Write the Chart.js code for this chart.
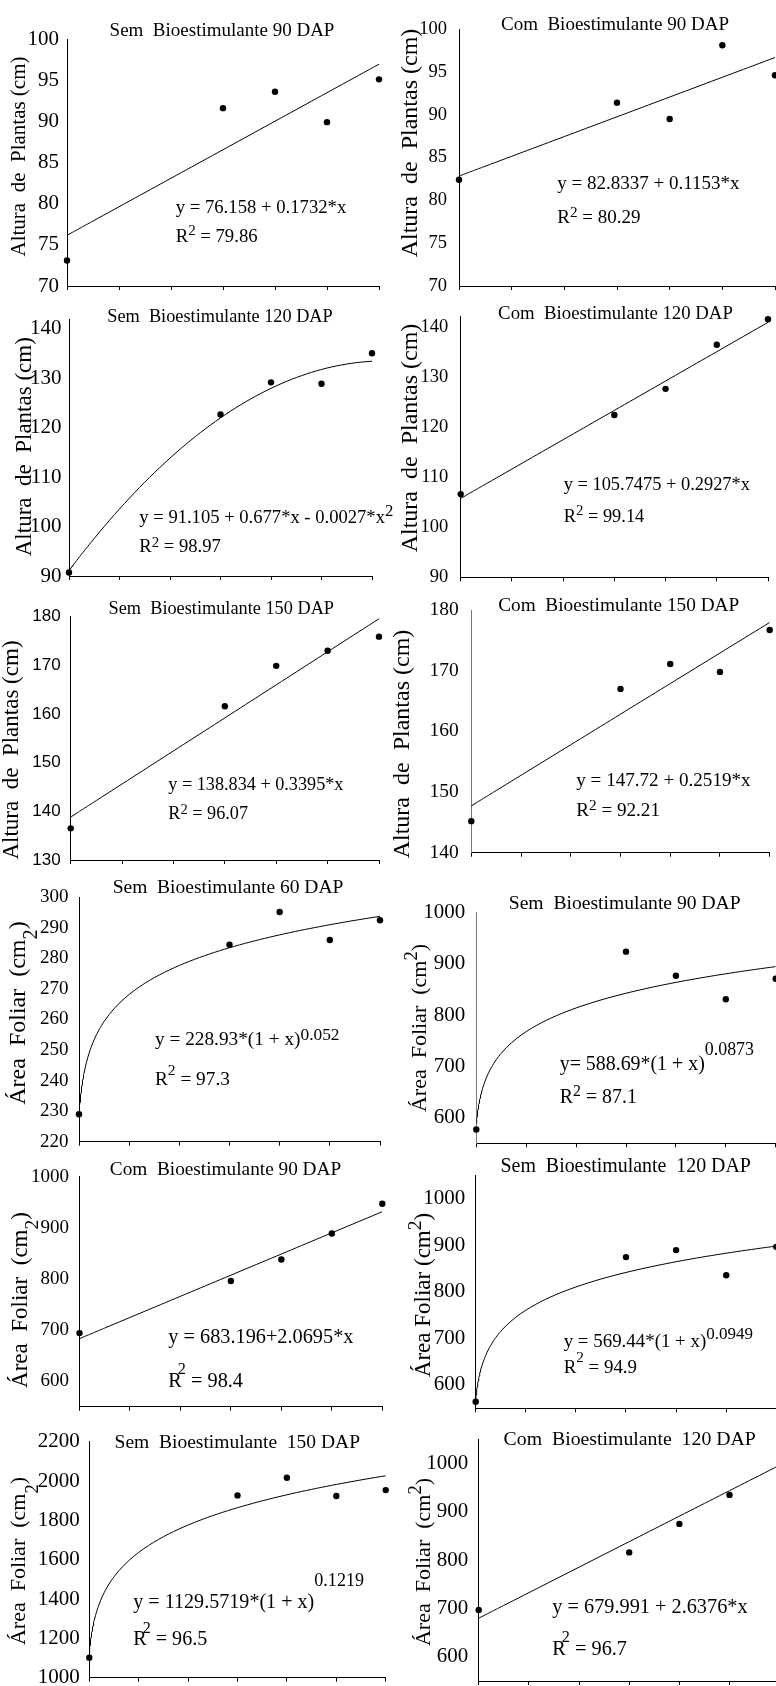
<!DOCTYPE html>
<html>
<head>
<meta charset="utf-8">
<script src="https://cdn.jsdelivr.net/npm/chart.js@4.4.0/dist/chart.umd.min.js"></script>
<style>
  html, body { margin: 0; padding: 0; background: #fff; width: 776px; height: 1686px; overflow: hidden; }
  #fig { position: relative; width: 776px; height: 1686px; overflow: hidden; }
  canvas { position: absolute; }
</style>
</head>
<body>
<div id="fig"></div>
<script>
// doses (x) and axis marks
const doses = [0, 60, 80, 100, 120];
const xTicks = [0, 20, 40, 60, 80, 100, 120];

// Altura de plantas (cm)
const alturaSem90 = [73.1, 91.6, 93.6, 89.9, 95.1];
const alturaCom90 = [82.4, 91.4, 89.5, 98.1, 94.6];
const alturaSem120 = [90.7, 122.7, 129.2, 128.9, 135.1];
const alturaCom120 = [106.6, 122.4, 127.6, 136.4, 141.5];
const alturaSem150 = [136.5, 161.6, 169.9, 173.0, 175.9];
const alturaCom150 = [145.2, 167.0, 171.1, 169.8, 176.7];

// Área foliar (cm2)
const areaSem60 = [229, 284.5, 295.2, 286, 292.5];
const areaSem90 = [577, 924, 877, 831, 871];
const areaCom90 = [694, 796, 838, 889, 947];
const areaSem120 = [564, 874, 889, 835, 896];
const areaSem150 = [1102, 1927, 2017, 1924, 1954];
const areaCom120 = [697, 816, 875, 935]; // dose 120 falls outside the frame

// y tick labels
const yTicksAlt90 = [70, 75, 80, 85, 90, 95, 100];
const yTicksAlt120 = [90, 100, 110, 120, 130, 140];
const yTicksAltSem150 = [130, 140, 150, 160, 170, 180];
const yTicksAltCom150 = [140, 150, 160, 170, 180];
const yTicksArea60 = [220, 230, 240, 250, 260, 270, 280, 290, 300];
const yTicksArea = [600, 700, 800, 900, 1000];
const yTicksArea150 = [1000, 1200, 1400, 1600, 1800, 2000, 2200];

// regression coefficients, as printed on each panel
const fitAltSem90 = [76.158, 0.1732];
const fitAltCom90 = [82.8337, 0.1153];
const fitAltSem120 = [91.105, 0.677, -0.0027];
const fitAltCom120 = [105.7475, 0.2927];
const fitAltSem150 = [138.834, 0.3395];
const fitAltCom150 = [147.72, 0.2519];
const fitAreaSem60 = [228.93, 0.052];
const fitAreaSem90 = [588.69, 0.0873];
const fitAreaCom90 = [683.196, 2.0695];
const fitAreaSem120 = [569.44, 0.0949];
const fitAreaSem150 = [1129.5719, 0.1219];
const fitAreaCom120 = [679.991, 2.6376];

const models = {
    lin: (c, x) => c[0] + c[1] * x,
    quad: (c, x) => c[0] + c[1] * x + c[2] * x * x,
    pow: (c, x) => c[0] * Math.pow(1 + x, c[1])
};

// texts ("^" marks a superscript)
const labelAltura = 'Altura  de  Plantas (cm)';
const labelArea = 'Área  Foliar  (cm^2)';

const panelData = [
    { title: 'Sem  Bioestimulante 90 DAP', ylabel: labelAltura, y: alturaSem90, yTicks: yTicksAlt90, fit: fitAltSem90, model: 'lin',
      eq: ['y = 76.158 + 0.1732*x', 'R^2 = 79.86'] },
    { title: 'Com  Bioestimulante 90 DAP', ylabel: labelAltura, y: alturaCom90, yTicks: yTicksAlt90, fit: fitAltCom90, model: 'lin',
      eq: ['y = 82.8337 + 0.1153*x', 'R^2 = 80.29'] },
    { title: 'Sem  Bioestimulante 120 DAP', ylabel: labelAltura, y: alturaSem120, yTicks: yTicksAlt120, fit: fitAltSem120, model: 'quad',
      eq: ['y = 91.105 + 0.677*x - 0.0027*x^2', 'R^2 = 98.97'] },
    { title: 'Com  Bioestimulante 120 DAP', ylabel: labelAltura, y: alturaCom120, yTicks: yTicksAlt120, fit: fitAltCom120, model: 'lin',
      eq: ['y = 105.7475 + 0.2927*x', 'R^2 = 99.14'] },
    { title: 'Sem  Bioestimulante 150 DAP', ylabel: labelAltura, y: alturaSem150, yTicks: yTicksAltSem150, fit: fitAltSem150, model: 'lin',
      eq: ['y = 138.834 + 0.3395*x', 'R^2 = 96.07'] },
    { title: 'Com  Bioestimulante 150 DAP', ylabel: labelAltura, y: alturaCom150, yTicks: yTicksAltCom150, fit: fitAltCom150, model: 'lin',
      eq: ['y = 147.72 + 0.2519*x', 'R^2 = 92.21'] },
    { title: 'Sem  Bioestimulante 60 DAP', ylabel: labelArea, y: areaSem60, yTicks: yTicksArea60, fit: fitAreaSem60, model: 'pow',
      eq: ['y = 228.93*(1 + x)^0.052', 'R^2 = 97.3'] },
    { title: 'Sem  Bioestimulante 90 DAP', ylabel: labelArea, y: areaSem90, yTicks: yTicksArea, fit: fitAreaSem90, model: 'pow',
      eq: ['y= 588.69*(1 + x)^0.0873', 'R^2 = 87.1'] },
    { title: 'Com  Bioestimulante 90 DAP', ylabel: labelArea, y: areaCom90, yTicks: yTicksArea, fit: fitAreaCom90, model: 'lin',
      eq: ['y = 683.196+2.0695*x', 'R^2 = 98.4'] },
    { title: 'Sem  Bioestimulante  120 DAP', ylabel: 'Área Foliar (cm^2)', y: areaSem120, yTicks: yTicksArea, fit: fitAreaSem120, model: 'pow',
      eq: ['y = 569.44*(1 + x)^0.0949', 'R^2 = 94.9'] },
    { title: 'Sem  Bioestimulante  150 DAP', ylabel: labelArea, y: areaSem150, yTicks: yTicksArea150, fit: fitAreaSem150, model: 'pow',
      eq: ['y = 1129.5719*(1 + x)^0.1219', 'R^2 = 96.5'] },
    { title: 'Com  Bioestimulante  120 DAP', ylabel: labelArea, y: areaCom120, yTicks: yTicksArea, fit: fitAreaCom120, model: 'lin',
      eq: ['y = 679.991 + 2.6376*x', 'R^2 = 96.7'] }
];

// page layout: box = plot area [left, top, right, bottom], title = [cx, baseline, size],
// label = [baseline x, center y, size, superscript shift], eq = [x, baseline1, baseline2, size],
// sup = [exponent raise, R2 raise], tick = [size, padding, family]
const panelLayout = [
    { col: 0, box: [67, 39, 379, 286], yRange: [70, 100], title: [222, 36, 19], label: [25, 156.5, 21, 0], eq: [175.7, 213.3, 241.7, 18.7], sup: [0, 7], tick: [21, 8] },
    { col: 1, box: [459, 29, 775, 286], yRange: [70, 100], title: [615, 30, 19], label: [417, 143, 24, 0], eq: [557.3, 189.3, 222.7, 19], sup: [0, 6], tick: [18.5, 12] },
    { col: 0, box: [69, 319.1, 372, 576], yRange: [90, 142], title: [220, 321.7, 18.3], label: [31, 446.7, 23, 0], eq: [139.3, 523.3, 551.7, 18.6], sup: [7, 5], tick: [21, 7.5] },
    { col: 1, box: [460.7, 316.7, 768, 577.3], yRange: [90, 142], title: [615.5, 319.3, 18.8], label: [417, 438, 24, 0], eq: [563.7, 490, 521.7, 18.4], sup: [0, 7], tick: [18.5, 12.5] },
    { col: 0, box: [70.7, 616.7, 379, 860], yRange: [130, 180], title: [221.3, 614.3, 18.3], label: [18, 750, 23, 0], eq: [168.3, 790, 819, 18.2], sup: [0, 5], tick: [17, 10, 'sans'] },
    { col: 1, box: [471.3, 610, 769.7, 852.7], yRange: [140, 180], title: [618.7, 610.7, 19.3], label: [409, 744, 24, 0], eq: [576.3, 786, 816, 19.1], sup: [0, 6], tick: [19.5, 12.5], axis: '#777' },
    { col: 0, box: [79, 897.3, 380, 1141.7], yRange: [220, 300], title: [228, 892.7, 19.5], label: [25, 1013, 24, 12], eq: [155, 1045, 1085, 19.3], sup: [5, 10], tick: [19, 10.5] },
    { col: 1, box: [476.3, 912.7, 775.7, 1143.3], yRange: [550, 1000], title: [624.7, 909.3, 19.6], label: [426, 1028, 22, -9], eq: [559.7, 1070, 1103.3, 19.9], sup: [15, 7], tick: [21, 11], axis: '#777' },
    { col: 0, box: [79.5, 1176.7, 382.3, 1406.7], yRange: [550, 1000], title: [225.5, 1175, 19.3], label: [27, 1300, 23, 11], eq: [168.3, 1343.3, 1387, 20.3], sup: [0, 13], supDx: -4, tick: [19, 10.5] },
    { col: 1, box: [475.7, 1175, 776.3, 1408.3], yRange: [550, 1050], title: [625.7, 1171.7, 19.9], label: [430, 1295, 23, -9], eq: [563.7, 1346.7, 1373.3, 18.9], sup: [8, 11], tick: [21, 10.5] },
    { col: 0, box: [89.3, 1441.7, 385.7, 1677.7], yRange: [1000, 2200], title: [237.3, 1448.3, 19.5], label: [25, 1561, 22, 13], eq: [133.3, 1608.3, 1645, 20.1], sup: [22, 12], supDx: -4, tick: [21, 9.5] },
    { col: 1, box: [478.7, 1439.3, 779.7, 1681], yRange: [550, 1050], title: [629.7, 1445, 19.8], label: [430, 1562, 22, -9], eq: [552.3, 1613.3, 1655, 20.3], sup: [0, 13], supDx: -4, tick: [21, 10.5] }
];

const SERIF = "'Liberation Serif', 'Times New Roman', serif";
const SANS = "'Liberation Sans', Arial, sans-serif";

// x positions where the printed regression is drawn
const curveX = [];
for (let i = 0; i < 20; i++) curveX.push(i / 10);
for (let i = 4; i < 20; i++) curveX.push(i / 2);
for (let x = 10; x <= 120; x += 2) curveX.push(x);

// "R^2 = 1" -> [{t:'R'}, {t:'2', sup:true}, {t:' = 1'}]
const parseRich = (s) => s.split(/(\^[0-9.]+)/).filter(t => t).map(t =>
    t[0] === '^' ? { t: t.slice(1), sup: true } : { t: t, sup: false });

const richWidth = (ctx, segs, size, supScale) => segs.reduce((w, s) => {
    ctx.font = `${s.sup ? size * supScale : size}px ${SERIF}`;
    return w + ctx.measureText(s.t).width;
}, 0);

const drawRich = (ctx, segs, x, y, size, raise, supScale, dx) => {
    let cx = x;
    segs.forEach(s => {
        ctx.font = `${s.sup ? size * supScale : size}px ${SERIF}`;
        const sx = s.sup ? cx + dx : cx;
        ctx.fillText(s.t, sx, s.sup ? y - raise : y);
        cx = sx + ctx.measureText(s.t).width;
    });
};

const textPlugin = (lay, dat) => ({
    id: 'panelText',
    afterDraw: (chart) => {
        const ctx = chart.ctx;
        const [ox, oy] = lay.origin;
        ctx.save();
        ctx.fillStyle = '#000';
        ctx.textBaseline = 'alphabetic';
        // title
        ctx.textAlign = 'center';
        ctx.font = `${lay.title[2]}px ${SERIF}`;
        ctx.fillText(dat.title, lay.title[0] - ox, lay.title[1] - oy);
        // equation + R2
        ctx.textAlign = 'left';
        drawRich(ctx, parseRich(dat.eq[0]), lay.eq[0] - ox, lay.eq[1] - oy, lay.eq[3], lay.sup[0], 0.9, 0);
        drawRich(ctx, parseRich(dat.eq[1]), lay.eq[0] - ox, lay.eq[2] - oy, lay.eq[3], lay.sup[1], 0.8, lay.supDx || 0);
        // y axis title, rotated
        const segs = parseRich(dat.ylabel);
        ctx.translate(lay.label[0] - ox, lay.label[1] - oy);
        ctx.rotate(-Math.PI / 2);
        const w = richWidth(ctx, segs, lay.label[2], 0.85);
        drawRich(ctx, segs, -w / 2, 0, lay.label[2], lay.label[3] ? -lay.label[3] : 0, 0.85, 0);
        ctx.restore();
    }
});

const fig = document.getElementById('fig');

panelLayout.forEach((lay, i) => {
    const dat = panelData[i];
    const [L, T, R, B] = lay.box;
    const cx = lay.col ? 376 : 0;
    const cw = lay.col ? 412 : 396;
    const cy = Math.floor(Math.min(lay.title[1] - 26, T - 14));
    const ch = Math.ceil(B + 12 - cy);
    lay.origin = [cx, cy];

    const canvas = document.createElement('canvas');
    canvas.width = cw;
    canvas.height = ch;
    canvas.style.left = cx + 'px';
    canvas.style.top = cy + 'px';
    fig.appendChild(canvas);

    const axisColor = lay.axis || '#000';

    new Chart(canvas, {
        type: 'scatter',
        data: {
            datasets: [{
                data: curveX.map(x => ({ x: x, y: models[dat.model](dat.fit, x) })),
                showLine: true,
                pointRadius: 0,
                borderColor: '#000',
                borderWidth: 1,
                tension: 0
            }, {
                data: dat.y.map((v, k) => ({ x: doses[k], y: v })),
                showLine: false,
                pointRadius: 3.2,
                pointBackgroundColor: '#000',
                pointBorderWidth: 0,
                clip: false
            }]
        },
        options: {
            responsive: false,
            animation: false,
            events: [],
            layout: { autoPadding: false, padding: { left: 0, top: T - cy, right: cx + cw - R, bottom: 0 } },
            plugins: { legend: { display: false }, tooltip: { enabled: false } },
            scales: {
                x: {
                    type: 'linear',
                    min: 0,
                    max: 120,
                    afterBuildTicks: (s) => { s.ticks = xTicks.map(v => ({ value: v })); },
                    ticks: { display: false },
                    grid: { drawOnChartArea: false, drawTicks: true, tickLength: 4, color: '#000', lineWidth: 1 },
                    border: { color: '#000', width: 1 },
                    afterFit: (s) => { s.height = cy + ch - B; s.paddingLeft = 0; s.paddingRight = 0; }
                },
                y: {
                    min: lay.yRange[0],
                    max: lay.yRange[1],
                    afterBuildTicks: (s) => { s.ticks = dat.yTicks.map(v => ({ value: v })); },
                    ticks: {
                        autoSkip: false,
                        padding: lay.tick[1],
                        color: '#000',
                        font: { family: lay.tick[2] === 'sans' ? SANS : SERIF, size: lay.tick[0] },
                        callback: (v) => String(v)
                    },
                    grid: { display: false, drawTicks: false },
                    border: { color: axisColor, width: 1 },
                    afterFit: (s) => { s.width = L - cx; s.paddingTop = 0; s.paddingBottom = 0; }
                }
            }
        },
        plugins: [textPlugin(lay, dat)]
    });
});
</script>
</body>
</html>
